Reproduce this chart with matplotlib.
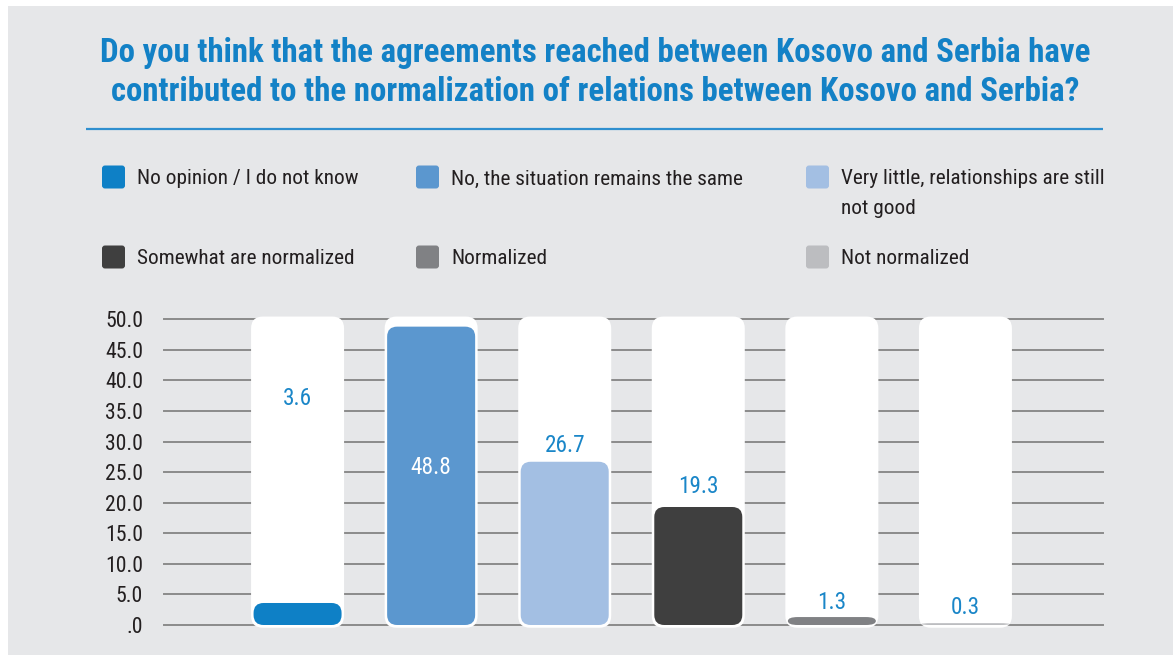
import matplotlib
matplotlib.use("Agg")
import matplotlib.pyplot as plt
from matplotlib import font_manager as fm
from matplotlib.patches import FancyBboxPatch, Rectangle

# ---------------- data ----------------
categories = [
    "No opinion / I do not know",
    "No, the situation remains the same",
    "Very little, relationships are still\nnot good",
    "Somewhat are normalized",
    "Normalized",
    "Not normalized",
]
values = [3.6, 48.8, 26.7, 19.3, 1.3, 0.3]
value_labels = ["3.6", "48.8", "26.7", "19.3", "1.3", "0.3"]
y_ticks = [0, 5, 10, 15, 20, 25, 30, 35, 40, 45, 50]
y_tick_labels = [".0", "5.0", "10.0", "15.0", "20.0", "25.0", "30.0", "35.0", "40.0", "45.0", "50.0"]
title_lines = [
    "Do you think that the agreements reached between Kosovo and Serbia have",
    "contributed to the normalization of relations between Kosovo and Serbia?",
]

# ---------------- style / layout ----------------
bar_colors = ["#0e80c6", "#5b97cf", "#a3bfe3", "#3f3f3f", "#808184", "#bcbdc0"]
label_colors = ["#1a86c8", "#ffffff", "#1a86c8", "#1a86c8", "#1a86c8", "#1a86c8"]
label_y = [37.0, 25.7, 29.3, 22.7, 3.7, 2.9]   # label centre heights (data units)
W, H = 1173, 659
BG = "#e6e7e9"
TXT = "#231f20"
BLUE = "#1381c6"

# ---------------- fonts ----------------
avail = {}
for f in fm.fontManager.ttflist:
    avail.setdefault(f.name, set()).add((f.weight, f.stretch))

cond_family, cond_stretch = None, "normal"
for c in ["Roboto Condensed", "Open Sans Condensed", "Noto Sans Condensed",
          "Liberation Sans Narrow", "Arial Narrow", "DejaVu Sans Condensed"]:
    if c in avail:
        cond_family = c
        break
if cond_family is None:
    for f in fm.fontManager.ttflist:
        if f.name in ("Noto Sans", "Open Sans", "Roboto", "DejaVu Sans", "Lato", "Inter") \
                and isinstance(f.stretch, str) and "condensed" in f.stretch:
            cond_family, cond_stretch = f.name, f.stretch
            break
if cond_family is None:
    cond_family = "Roboto" if "Roboto" in avail else "DejaVu Sans"

FONT = dict(family=[cond_family, "DejaVu Sans"], stretch=cond_stretch)

fig = plt.figure(figsize=(W / 100, H / 100), dpi=100, facecolor="white")

# decoration layer in pixel-like coordinates
deco = fig.add_axes([0, 0, 1, 1], zorder=0)
deco.set_xlim(0, W)
deco.set_ylim(H, 0)
deco.axis("off")
deco.add_patch(Rectangle((8, 6), W - 8, H - 10, facecolor=BG, edgecolor="none"))

# title
title_objs = []
for i, line in enumerate(title_lines):
    t = deco.text(595, 53 + 39 * i, line, ha="center", va="center",
                  fontweight="bold", color=BLUE, fontsize=20, **FONT)
    title_objs.append(t)
deco.plot([86, 1103], [129, 129], color="#2f8fcf", lw=1.6, solid_capstyle="butt")

# legend
leg_x = [102, 416, 806]
leg_y = [177, 257]
leg_texts = []
for i, (cat, col) in enumerate(zip(categories, bar_colors)):
    x = leg_x[i % 3]
    y = leg_y[i // 3]
    deco.add_patch(FancyBboxPatch((x, y - 11.5), 23, 23,
                                  boxstyle="round,pad=0,rounding_size=3",
                                  facecolor=col, edgecolor="none"))
    for j, ln in enumerate(cat.split("\n")):
        t = deco.text(x + 35, y + 2 + 29 * j, ln, ha="left", va="center",
                      color=TXT, fontsize=14, **FONT)
        leg_texts.append(t)

# main axes
x_left, x_right = 164, 1103
y_zero, y_top = 625, 319.3
ax = fig.add_axes([x_left / W, 1 - y_zero / H, (x_right - x_left) / W, (y_zero - y_top) / H],
                  zorder=1)
ax.set_facecolor("none")
ax.set_xlim(-1.0, 6.03)
ax.set_ylim(0, 50)
for s in ax.spines.values():
    s.set_visible(False)
ax.set_xticks([])
ax.set_yticks(y_ticks)
ax.set_yticklabels(y_tick_labels)
ax.tick_params(axis="y", length=0, pad=15, colors=TXT)
for lab in ax.get_yticklabels():
    lab.set_fontfamily(FONT["family"])
    lab.set_fontstretch(cond_stretch)
    lab.set_fontsize(15)
for yt in y_ticks:
    ax.axhline(yt, color="#8b8b8b", lw=1.4, zorder=0.5, clip_on=False)

# pixel scales
px_x = (x_right - x_left) / 7.03
px_y = (y_zero - y_top) / 50.0


def rounded(ax, x0, y0, w, h, r_px, color, z):
    h_px = max(h * px_y, 0.1)
    w_px = w * px_x
    rx = min(r_px, w_px / 2)
    ry = min(r_px, h_px / 2)
    rs = rx / px_x
    aspect = (ry / px_y) / rs
    p = FancyBboxPatch((x0, y0), w, h,
                       boxstyle=f"round,pad=0,rounding_size={rs}",
                       mutation_aspect=aspect, facecolor=color,
                       edgecolor="none", zorder=z, clip_on=False)
    ax.add_patch(p)


bg_w = 93 / px_x
bar_w = 88 / px_x
val_texts = []
for i, (v, col) in enumerate(zip(values, bar_colors)):
    rounded(ax, i - bg_w / 2, -0.45, bg_w, 50.9, 12, "white", 1)
    rounded(ax, i - bar_w / 2, 0, bar_w, v, 10, col, 2)
    t = ax.text(i, label_y[i], value_labels[i], ha="center", va="center",
                color=label_colors[i], fontsize=15, zorder=3, **FONT)
    val_texts.append(t)

# ---- fit font sizes to reference widths ----
fig.canvas.draw()
r = fig.canvas.get_renderer()


def scale_group(objs, ref, target):
    w = ref.get_window_extent(r).width
    k = target / w
    for o in objs:
        o.set_fontsize(o.get_fontsize() * k)


scale_group(title_objs, title_objs[0], 986)
scale_group(leg_texts, leg_texts[0], 222)
scale_group(val_texts, val_texts[1], 41)
ticklabs = ax.get_yticklabels()
fig.canvas.draw()
ref_tl = ticklabs[-1]
k = 38 / ref_tl.get_window_extent(r).width
for lab in ticklabs:
    lab.set_fontsize(lab.get_fontsize() * k)

fig.savefig("out.png", dpi=100, facecolor="white")
